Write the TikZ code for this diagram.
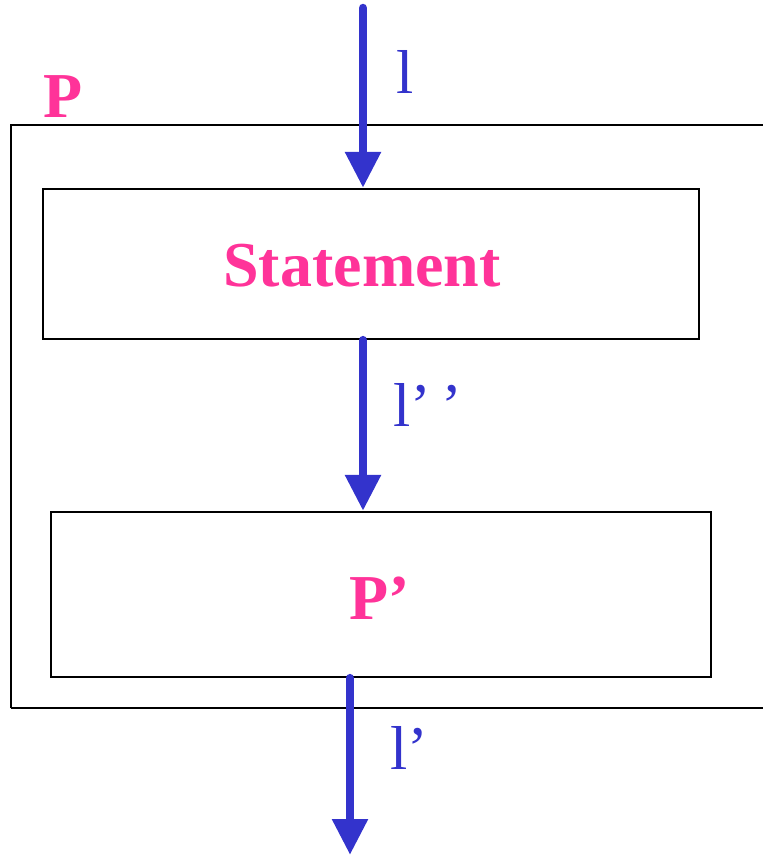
\documentclass[tikz,border=0pt]{standalone}
\usepackage{fontspec}
\setmainfont{Liberation Serif}
\usetikzlibrary{arrows.meta}
\definecolor{flowblue}{HTML}{3333CC}
\definecolor{hotpink}{HTML}{FF3399}
\tikzset{
  box/.style={draw=black, line width=2.2pt, inner sep=0pt},
  flow/.style={draw=flowblue, line width=8.5pt, line cap=round, -{Triangle[width=34pt,length=36pt]}},
  lbl/.style={text=flowblue, font=\fontsize{62}{62}\selectfont, inner sep=0pt},
  ttl/.style={text=hotpink, font=\fontsize{64}{64}\selectfont\bfseries, inner sep=0pt}
}
\begin{document}
\begin{tikzpicture}[x=1pt,y=-1pt]
\useasboundingbox (0,0) rectangle (763,857);
\clip (0,0) rectangle (763,857);
\draw[line width=2.2pt] (11,708) -- (11,125) -- (780,125);
\draw[line width=2.2pt] (11,708) -- (780,708);
\node[box, minimum width=656pt, minimum height=150pt] (stmt) at (371,264) {};
\node[ttl] (stmttxt) at (362,266) {Statement};
\node[box, minimum width=660pt, minimum height=165pt] (pp) at (381,594.5) {};
\node[ttl] (pptxt) at (380,598) {P’};
\node[ttl] (ptitle) at (63,97) {P};
\coordinate (top) at (363,8);
\coordinate (bot) at (350,855);
\draw[flow] (top) -- (top |- stmt.north);
\draw[flow] (stmt.south -| top) -- (pp.north -| top);
\draw[flow] (pp.south -| bot) -- (bot);
\node[lbl] (l1) at (405,72) {l};
\node[lbl] (l2) at (428,405) {l’\,’};
\node[lbl] (l3) at (409,748) {l’};
\end{tikzpicture}
\end{document}
